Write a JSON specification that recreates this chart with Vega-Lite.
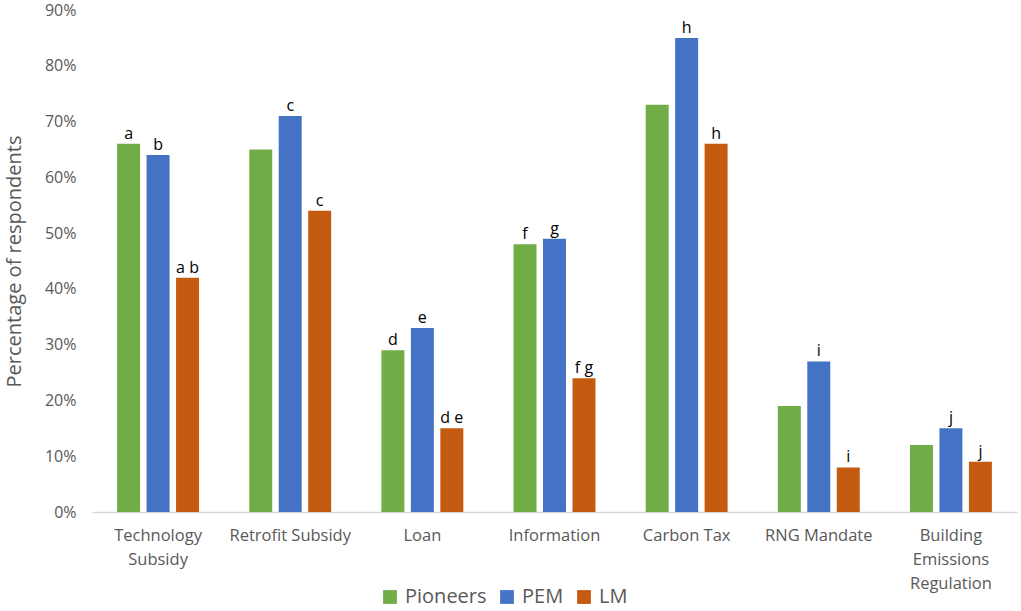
{
  "$schema": "https://vega.github.io/schema/vega-lite/v6.json",
  "width": 925,
  "height": 502,
  "autosize": "none",
  "padding": {"left": 92, "top": 10, "right": 4, "bottom": 99},
  "background": "white",
  "config": {
    "view": {"stroke": null},
    "font": "Open Sans",
    "axis": {"labelFont": "Open Sans", "titleFont": "Open Sans", "labelColor": "#595959", "titleColor": "#595959", "grid": false, "ticks": false},
    "legend": {"labelFont": "Open Sans"}
  },
  "data": {
    "values": [
      {"policy": "Technology Subsidy", "group": "Pioneers", "pct": 66, "sig": "a"},
      {"policy": "Technology Subsidy", "group": "PEM", "pct": 64, "sig": "b"},
      {"policy": "Technology Subsidy", "group": "LM", "pct": 42, "sig": "a b"},
      {"policy": "Retrofit Subsidy", "group": "Pioneers", "pct": 65, "sig": ""},
      {"policy": "Retrofit Subsidy", "group": "PEM", "pct": 71, "sig": "c"},
      {"policy": "Retrofit Subsidy", "group": "LM", "pct": 54, "sig": "c"},
      {"policy": "Loan", "group": "Pioneers", "pct": 29, "sig": "d"},
      {"policy": "Loan", "group": "PEM", "pct": 33, "sig": "e"},
      {"policy": "Loan", "group": "LM", "pct": 15, "sig": "d e"},
      {"policy": "Information", "group": "Pioneers", "pct": 48, "sig": "f"},
      {"policy": "Information", "group": "PEM", "pct": 49, "sig": "g"},
      {"policy": "Information", "group": "LM", "pct": 24, "sig": "f g"},
      {"policy": "Carbon Tax", "group": "Pioneers", "pct": 73, "sig": ""},
      {"policy": "Carbon Tax", "group": "PEM", "pct": 85, "sig": "h"},
      {"policy": "Carbon Tax", "group": "LM", "pct": 66, "sig": "h"},
      {"policy": "RNG Mandate", "group": "Pioneers", "pct": 19, "sig": ""},
      {"policy": "RNG Mandate", "group": "PEM", "pct": 27, "sig": "i"},
      {"policy": "RNG Mandate", "group": "LM", "pct": 8, "sig": "i"},
      {"policy": "Building Emissions Regulation", "group": "Pioneers", "pct": 12, "sig": ""},
      {"policy": "Building Emissions Regulation", "group": "PEM", "pct": 15, "sig": "j"},
      {"policy": "Building Emissions Regulation", "group": "LM", "pct": 9, "sig": "j"}
    ]
  },
  "encoding": {
    "x": {
      "field": "policy",
      "type": "nominal",
      "sort": null,
      "scale": {"paddingInner": 0.38, "paddingOuter": 0.19},
      "axis": {
        "title": null,
        "labelAngle": 0,
        "labelFontSize": 16.5,
        "labelPadding": 15,
        "labelLineHeight": 24,
        "labelBaseline": "top",
        "domainColor": "#d9d9d9",
        "domainWidth": 1.5,
        "labelExpr": "datum.value == 'Technology Subsidy' ? ['Technology', 'Subsidy'] : datum.value == 'Building Emissions Regulation' ? ['Building', 'Emissions', 'Regulation'] : datum.value"
      }
    },
    "xOffset": {
      "field": "group",
      "type": "nominal",
      "sort": ["Pioneers", "PEM", "LM"],
      "scale": {"paddingInner": 0.22, "paddingOuter": 0}
    },
    "y": {
      "field": "pct",
      "type": "quantitative",
      "scale": {"domain": [0, 90]},
      "axis": {
        "title": "Percentage of respondents",
        "titleFontSize": 20,
        "titleFontWeight": "normal",
        "titlePadding": 20,
        "labelFontSize": 16,
        "labelPadding": 16,
        "domain": false,
        "values": [0, 10, 20, 30, 40, 50, 60, 70, 80, 90],
        "labelExpr": "datum.value + '%'"
      }
    }
  },
  "layer": [
    {
      "mark": {"type": "bar", "strokeWidth": 1, "strokeOpacity": 0.5},
      "encoding": {
        "color": {
          "field": "group",
          "type": "nominal",
          "scale": {"domain": ["Pioneers", "PEM", "LM"], "range": ["#70AD47", "#4472C4", "#C55A11"]},
          "legend": {
            "title": null,
            "orient": "none",
            "direction": "horizontal",
            "legendX": 288,
            "legendY": 577,
            "symbolType": "square",
            "symbolSize": 190,
            "symbolStrokeWidth": 0,
            "labelFontSize": 20,
            "labelColor": "#595959",
            "columnPadding": 10,
            "labelOffset": 5
          }
        }
      }
    },
    {
      "mark": {"type": "text", "dy": -10, "fontSize": 16, "color": "black", "font": "Open Sans"},
      "encoding": {"text": {"field": "sig"}}
    }
  ]
}
